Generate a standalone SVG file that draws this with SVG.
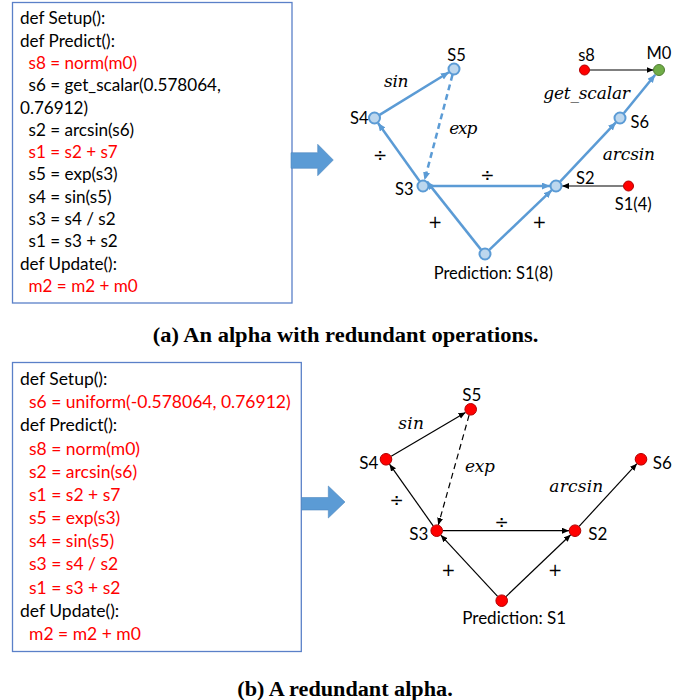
<svg xmlns="http://www.w3.org/2000/svg" width="699" height="700" viewBox="0 0 699 700">
<defs>
<style>
.code{font-family:Lato,"Liberation Sans",sans-serif;font-size:17.1px;fill:#000}
.code2{font-family:Lato,"Liberation Sans",sans-serif;font-size:17.5px;fill:#000}
.red{fill:#ff0000}
.box{fill:#fff;stroke:#5a80c8;stroke-width:1.3}
.bigarrow{fill:#5b9bd5;stroke:#4f88c0;stroke-width:0.6}
.lbl{font-family:Lato,"Liberation Sans",sans-serif;font-size:16.5px;fill:#000}
.lbl2{font-family:Lato,"Liberation Sans",sans-serif;font-size:17px;fill:#000}
.math{font-family:"DejaVu Serif","Liberation Serif",serif;font-style:italic;font-size:17px;fill:#000}
.op{font-family:"DejaVu Sans","Liberation Sans",sans-serif;font-size:17px;fill:#000;text-anchor:middle}
.cap{font-family:"Liberation Serif",serif;font-weight:bold;font-size:20.5px;fill:#000}
.nblue{fill:#bdd7ee;stroke:#5b9bd5;stroke-width:2}
.nred{fill:#ff0000;stroke:#b00000;stroke-width:1}
.ngreen{fill:#70ad47;stroke:#507e32;stroke-width:1}
.eblue{stroke:#5b9bd5;stroke-width:2.5;fill:none}
.eblack{stroke:#000;stroke-width:1.2;fill:none}
.dash{stroke-dasharray:6 4}
</style>
<marker id="ab" markerUnits="userSpaceOnUse" markerWidth="10" markerHeight="8" refX="8" refY="3.5" orient="auto"><path d="M0,0 L8,3.5 L0,7 z" fill="#5b9bd5"/></marker>
<marker id="ak" markerUnits="userSpaceOnUse" markerWidth="9" markerHeight="7" refX="7" refY="3" orient="auto"><path d="M0,0 L7,3 L0,6 z" fill="#000"/></marker>
</defs>
<rect width="699" height="700" fill="#fff"/>

<!-- (a) code box -->
<g id="codeA">
<rect class="box" x="12.5" y="2.5" width="279.5" height="300.5"/>
<text class="code" x="20" y="24.3">def Setup():</text>
<text class="code" x="20" y="46.6">def Predict():</text>
<text class="code red" x="28.5" y="68.9">s8 = norm(m0)</text>
<text class="code" x="28.5" y="91.2">s6 = get_scalar(0.578064,</text>
<text class="code" x="20" y="113.5">0.76912)</text>
<text class="code" x="28.5" y="135.8">s2 = arcsin(s6)</text>
<text class="code red" x="28.5" y="158.1">s1 = s2 + s7</text>
<text class="code" x="28.5" y="180.4">s5 = exp(s3)</text>
<text class="code" x="28.5" y="202.7">s4 = sin(s5)</text>
<text class="code" x="28.5" y="225">s3 = s4 / s2</text>
<text class="code" x="28.5" y="247.3">s1 = s3 + s2</text>
<text class="code" x="20" y="269.6">def Update():</text>
<text class="code red" x="28.5" y="291.9">m2 = m2 + m0</text>
</g>
<g id="arrowA">
<path class="bigarrow" d="M291,152.7 H317.7 V144.3 L333.3,160 L317.7,175.7 V168.3 H291 Z"/>
</g>

<!-- (a) connectors -->
<g id="edgesA">
<line class="eblue" x1="379.6" y1="114.9" x2="448.9" y2="72.2" marker-end="url(#ab)"/>
<line class="eblue dash" x1="452.5" y1="74.8" x2="424.5" y2="180.2" marker-end="url(#ab)"/>
<line class="eblue" x1="419.5" y1="181.1" x2="378" y2="122.9" marker-end="url(#ab)"/>
<line class="eblue" x1="429" y1="186" x2="550" y2="186" marker-end="url(#ab)"/>
<line class="eblue" x1="481" y1="249.6" x2="427" y2="181.6" marker-end="url(#ab)"/>
<line class="eblue" x1="489.3" y1="249.8" x2="551.7" y2="190.2" marker-end="url(#ab)"/>
<line class="eblue" x1="560.1" y1="181.6" x2="615.9" y2="122.4" marker-end="url(#ab)"/>
<line class="eblue" x1="623.8" y1="113.3" x2="655.2" y2="74.7" marker-end="url(#ab)"/>
<line class="eblack" x1="590" y1="70" x2="653.5" y2="70" marker-end="url(#ak)"/>
<line class="eblack" x1="623" y1="186" x2="562" y2="186" marker-end="url(#ak)"/>
<text class="math" x="384" y="87" textLength="24.5">sin</text>
<text class="math" x="449.3" y="133.5" textLength="28">exp</text>
<text class="math" x="543.3" y="98.5" textLength="86.7">get_scalar</text>
<text class="math" x="602.7" y="160" textLength="52.3">arcsin</text>
<text class="op" x="380" y="161">÷</text>
<text class="op" x="487.3" y="181">÷</text>
<text class="op" x="435" y="228">+</text>
<text class="op" x="539.3" y="228">+</text>
</g>

<!-- (a) nodes -->
<g id="a-S5"><circle class="nblue" cx="454" cy="69" r="5.5"/><text class="lbl" x="456.5" y="61" text-anchor="middle">S5</text></g>
<g id="a-S4"><circle class="nblue" cx="374.5" cy="118" r="5.5"/><text class="lbl" x="368.5" y="124" text-anchor="end">S4</text></g>
<g id="a-S3"><circle class="nblue" cx="423" cy="186" r="5.5"/><text class="lbl" x="413.5" y="195" text-anchor="end">S3</text></g>
<g id="a-S2"><circle class="nblue" cx="556" cy="186" r="5.5"/><text class="lbl" x="576" y="184">S2</text></g>
<g id="a-S6"><circle class="nblue" cx="620" cy="118" r="5.5"/><text class="lbl" x="630.5" y="127.5">S6</text></g>
<g id="a-M0"><circle class="ngreen" cx="659" cy="70" r="5.5"/><text class="lbl" x="659" y="59" text-anchor="middle">M0</text></g>
<g id="a-s8"><circle class="nred" cx="584.5" cy="70" r="5"/><text class="lbl" x="586.5" y="60.5" text-anchor="middle">s8</text></g>
<g id="a-S1-4"><circle class="nred" cx="628.5" cy="186" r="5"/><text class="lbl" x="633.3" y="210" text-anchor="middle">S1(4)</text></g>
<g id="a-Pred"><circle class="nblue" cx="485" cy="254" r="5.5"/><text class="lbl" x="493.3" y="279" text-anchor="middle">Prediction: S1(8)</text></g>

<text class="cap" x="152.7" y="342" textLength="385.6" lengthAdjust="spacingAndGlyphs">(a) An alpha with redundant operations.</text>

<!-- (b) code box -->
<g id="codeB">
<rect class="box" x="12.5" y="362.5" width="288.8" height="289"/>
<text class="code2" x="20" y="385">def Setup():</text>
<text class="code2 red" x="29" y="408.2">s6 = uniform(-0.578064, 0.76912)</text>
<text class="code2" x="20" y="431.4">def Predict():</text>
<text class="code2 red" x="29" y="454.5">s8 = norm(m0)</text>
<text class="code2 red" x="29" y="477.7">s2 = arcsin(s6)</text>
<text class="code2 red" x="29" y="500.9">s1 = s2 + s7</text>
<text class="code2 red" x="29" y="524.1">s5 = exp(s3)</text>
<text class="code2 red" x="29" y="547.3">s4 = sin(s5)</text>
<text class="code2 red" x="29" y="570.4">s3 = s4 / s2</text>
<text class="code2 red" x="29" y="593.6">s1 = s3 + s2</text>
<text class="code2" x="20" y="616.8">def Update():</text>
<text class="code2 red" x="29" y="640">m2 = m2 + m0</text>
</g>
<g id="arrowB">
<path class="bigarrow" d="M301.5,497.5 H328.3 V486 L345,502 L328.3,518 V510 H301.5 Z"/>
</g>

<!-- (b) connectors -->
<g id="edgesB">
<line class="eblack" x1="391.2" y1="456.3" x2="465.5" y2="412.4" marker-end="url(#ak)"/>
<line class="eblack dash" x1="469.1" y1="415.1" x2="438.3" y2="524.9" marker-end="url(#ak)"/>
<line class="eblack" x1="433.2" y1="525.8" x2="389.5" y2="464.2" marker-end="url(#ak)"/>
<line class="eblack" x1="442.7" y1="530.7" x2="569" y2="530.7" marker-end="url(#ak)"/>
<line class="eblack" x1="497.6" y1="596.3" x2="440.8" y2="535.1" marker-end="url(#ak)"/>
<line class="eblack" x1="506" y1="596.6" x2="570.7" y2="534.8" marker-end="url(#ak)"/>
<line class="eblack" x1="579.1" y1="526.3" x2="636.9" y2="463.7" marker-end="url(#ak)"/>
<text class="math" x="398.3" y="428.5" textLength="25.7">sin</text>
<text class="math" x="465" y="472" textLength="30">exp</text>
<text class="math" x="549.3" y="491.5" textLength="54">arcsin</text>
<text class="op" x="396.7" y="506">÷</text>
<text class="op" x="501.7" y="527.7">÷</text>
<text class="op" x="448.3" y="575.5">+</text>
<text class="op" x="555" y="575.5">+</text>
</g>

<!-- (b) nodes -->
<g id="b-S5"><circle class="nred" cx="470.7" cy="409.3" r="5.8"/><text class="lbl2" x="471.8" y="400.5" text-anchor="middle">S5</text></g>
<g id="b-S4"><circle class="nred" cx="386" cy="459.3" r="5.8"/><text class="lbl2" x="378.3" y="469" text-anchor="end">S4</text></g>
<g id="b-S3"><circle class="nred" cx="436.7" cy="530.7" r="5.8"/><text class="lbl2" x="428.3" y="539.5" text-anchor="end">S3</text></g>
<g id="b-S2"><circle class="nred" cx="575" cy="530.7" r="5.8"/><text class="lbl2" x="588.3" y="539.5">S2</text></g>
<g id="b-S6"><circle class="nred" cx="641" cy="459.3" r="5.8"/><text class="lbl2" x="652.7" y="469">S6</text></g>
<g id="b-Pred"><circle class="nred" cx="501.7" cy="600.7" r="5.8"/><text class="lbl2" x="514.2" y="624" text-anchor="middle">Prediction: S1</text></g>

<text class="cap" x="237.3" y="695.5" textLength="215.4" lengthAdjust="spacingAndGlyphs">(b) A redundant alpha.</text>
</svg>
